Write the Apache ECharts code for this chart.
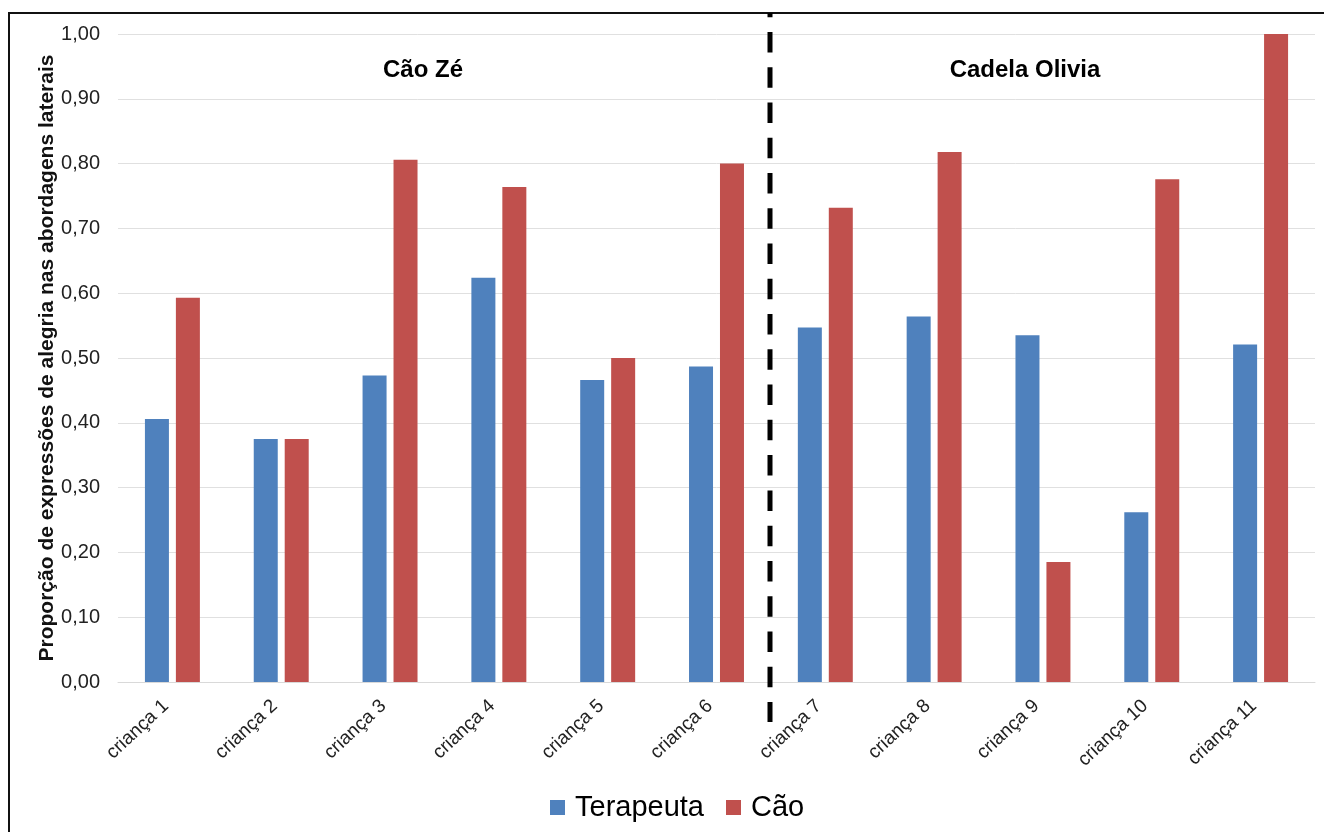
<!DOCTYPE html>
<html>
<head>
<meta charset="utf-8">
<script src="https://cdn.jsdelivr.net/npm/echarts@6/dist/echarts.min.js"></script>
<style>
  html, body { margin: 0; padding: 0; background: #fff; }
  #chart { width: 1324px; height: 832px; }
</style>
</head>
<body>
<div id="chart"></div>
<script>
// Children grouped by the dog that took part in the sessions
const categories = ['criança 1', 'criança 2', 'criança 3', 'criança 4', 'criança 5', 'criança 6',
                    'criança 7', 'criança 8', 'criança 9', 'criança 10', 'criança 11'];
const terapeuta = [0.406, 0.375, 0.473, 0.624, 0.466, 0.487, 0.547, 0.564, 0.535, 0.262, 0.521];
const cao       = [0.593, 0.375, 0.806, 0.764, 0.500, 0.800, 0.732, 0.818, 0.185, 0.776, 1.000];
const yTicks = { min: 0, max: 1, interval: 0.1 };
const groupNames = ['Cão Zé', 'Cadela Olivia'];
const firstOliviaIndex = 6;

const chart = echarts.init(document.getElementById('chart'), null, { renderer: 'canvas' });
const fontFamily = '"Liberation Sans", Arial, sans-serif';

chart.setOption({
  animation: false,
  backgroundColor: '#fff',
  textStyle: { fontFamily },
  grid: { left: 118, right: 9, top: 34, bottom: 150, containLabel: false },
  legend: {
    left: 545, top: 788,
    itemWidth: 15, itemHeight: 15, itemGap: 22,
    icon: 'rect',
    textStyle: { fontSize: 29, color: '#000', fontFamily, padding: [0, 0, 0, 5] },
    data: ['Terapeuta', 'Cão']
  },
  xAxis: {
    type: 'category',
    data: categories,
    axisLine: { lineStyle: { color: '#d9d9d9', width: 1 } },
    axisTick: { show: false },
    axisLabel: { rotate: 43, fontSize: 19, color: '#222', margin: 15, interval: 0,
                 padding: [0, 9, 0, 0], fontFamily }
  },
  yAxis: {
    type: 'value',
    min: yTicks.min, max: yTicks.max, interval: yTicks.interval,
    name: 'Proporção de expressões de alegria nas abordagens laterais',
    nameLocation: 'middle', nameRotate: 90, nameGap: 60, nameMoveOverlap: false,
    nameTextStyle: { fontSize: 21, fontWeight: 'bold', color: '#111', fontFamily },
    axisLine: { show: false },
    axisTick: { show: false },
    splitLine: { lineStyle: { color: '#e0e0e0', width: 1 } },
    axisLabel: {
      fontSize: 20, color: '#222', margin: 18, fontFamily,
      formatter: v => v.toFixed(2).replace('.', ',')
    }
  },
  series: [
    { name: 'Terapeuta', type: 'bar', data: terapeuta, barWidth: 24, barGap: '29%',
      itemStyle: { color: '#4F81BD' } },
    { name: 'Cão', type: 'bar', data: cao, barWidth: 24, barGap: '29%',
      itemStyle: { color: '#C0504D' } }
  ]
});

// Separator between the two dogs' groups, plus the group headings and the outer frame
const xLeft = chart.convertToPixel({ xAxisIndex: 0 }, firstOliviaIndex - 1);
const xRight = chart.convertToPixel({ xAxisIndex: 0 }, firstOliviaIndex);
const sepX = Math.round((xLeft + xRight) / 2) - 1;

chart.setOption({
  graphic: [
    { type: 'rect', shape: { x: 9, y: 13, width: 1330, height: 840 },
      style: { fill: 'none', stroke: '#111', lineWidth: 2 }, silent: true },
    { type: 'line', shape: { x1: sepX, y1: 13, x2: sepX, y2: 722 },
      style: { stroke: '#000', lineWidth: 5, lineDash: [20.5, 14.76], lineDashOffset: 16.26 }, z: 10 },
    { type: 'text', x: 423, y: 70,
      style: { text: groupNames[0], font: 'bold 24px ' + fontFamily, fill: '#000',
               textAlign: 'center', textVerticalAlign: 'middle' } },
    { type: 'text', x: 1025, y: 70,
      style: { text: groupNames[1], font: 'bold 24px ' + fontFamily, fill: '#000',
               textAlign: 'center', textVerticalAlign: 'middle' } }
  ]
});
</script>
</body>
</html>
